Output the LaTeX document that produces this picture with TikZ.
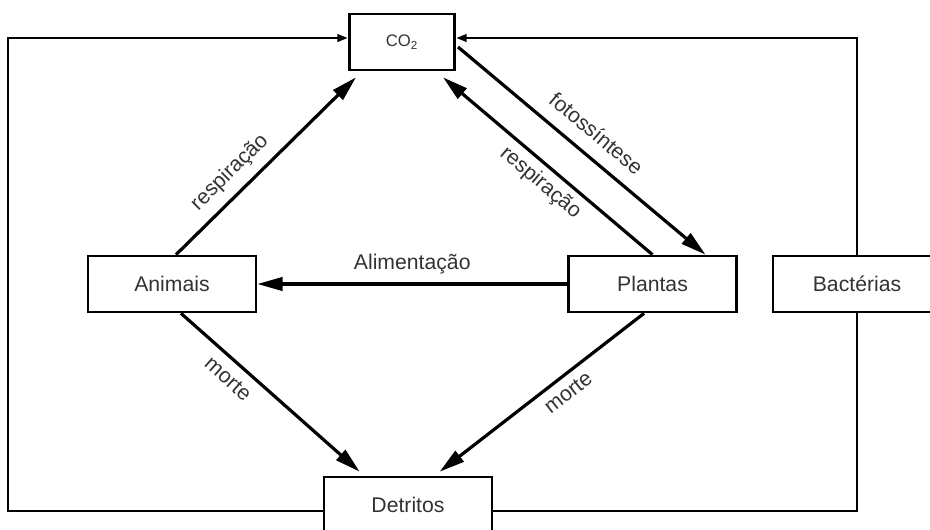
\documentclass[tikz,border=0pt]{standalone}
\usepackage{fontspec}
\setmainfont{Liberation Sans}
\usetikzlibrary{arrows.meta,calc}
\definecolor{ink}{HTML}{333333}
\begin{document}
\begin{tikzpicture}[x=0.75pt,y=-0.75pt,
  box/.style={draw=black, line width=2pt, minimum height=42pt, minimum width=126pt,
    inner sep=0pt, text=ink, font=\fontsize{15.9}{19}\selectfont},
  flow/.style={line width=2.4pt, -{Triangle[length=19pt,width=10pt]}},
  cycle line/.style={line width=2.2pt},
  cycle tip/.style={-{Triangle[length=8pt,width=5.5pt]}},
  lbl/.style={text=ink, font=\fontsize{15.9}{19}\selectfont, inner sep=0pt,
    text height=0.72em, text depth=0.22em},
  slbl/.style={lbl, sloped}]
\useasboundingbox (0,0) rectangle (930,529);
\fill[white] (0,0) rectangle (930,529);

% compartments
\node[box, minimum width=79pt] (co2) at (402,42) {\fontsize{12.5}{14}\selectfont CO\textsubscript{2}};
\node[box] (ani) at (172,284) {Animais};
\node[box] (pla) at (652.5,284) {Plantas};
\node[box] (bac) at (857,284) {Bactérias};
\node[box] (det) at (408,505) {Detritos};

% corners of the outer loop
\coordinate (tl) at (8,38);
\coordinate (bl) at (8,511);
\coordinate (tr) at (857,38);
\coordinate (br) at (857,511);

% outer loop back to CO2
\draw[cycle line, cycle tip] (det.west |- bl) -- (bl) -- (tl) -- (co2.west |- tl);
\draw[cycle line] (det.east |- br) -- (br) -- (bac.south);
\draw[cycle line, cycle tip] (bac.north) -- (tr) -- (co2.east |- tr);

% carbon flows
\draw[flow] ($(ani.north)+(4,0)$) --
  node[slbl, pos=0.38, above=8pt] {respiração} ($(co2.south west)+(8,6)$);
\draw[flow] (pla.north) --
  node[slbl, pos=0.48, below=9pt] {respiração} ($(co2.south east)+(-13,6)$);
\draw[flow] ($(co2.east)+(2,5)$) --
  node[slbl, pos=0.5, above=8pt] {fotossíntese} ($(pla.north)+(53,0)$);
\draw[flow] (pla.west) --
  node[lbl, above=7.5pt] {Alimentação} (ani.east);
\draw[flow] ($(ani.south)+(9,0)$) --
  node[slbl, pos=0.33, below=10pt] {morte} ($(det.north west)+(37,-4)$);
\draw[flow] ($(pla.south)+(-8.5,0)$) --
  node[slbl, pos=0.42, below=9pt] {morte} ($(det.north west)+(117,-4)$);
\end{tikzpicture}
\end{document}
